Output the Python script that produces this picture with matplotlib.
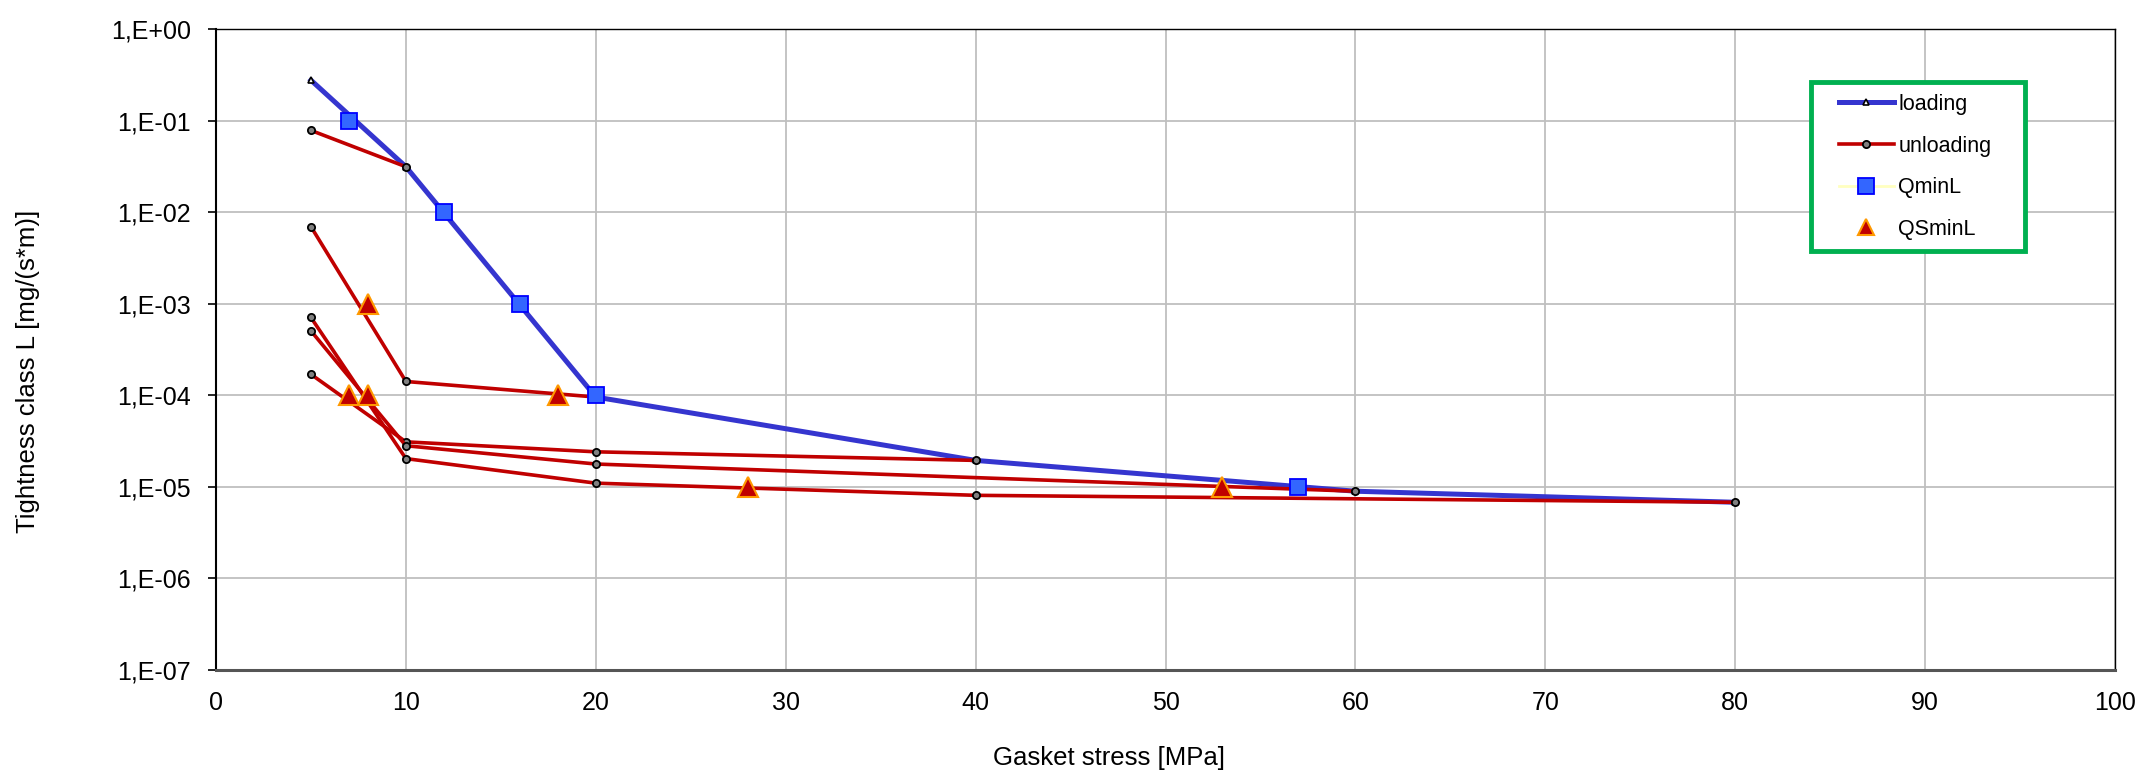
import matplotlib
matplotlib.use('Agg')
import matplotlib.pyplot as plt
from matplotlib.lines import Line2D
from matplotlib.patches import Rectangle

# ---- data ----
loading_x = [5, 10, 20, 40, 60, 80]
loading_y = [2.78e-1, 3.15e-2, 9.6e-5, 1.95e-5, 8.98e-6, 6.8e-6]

unload10_x = [10, 5]
unload10_y = [3.15e-2, 7.86e-2]
unload20_x = [20, 10, 5]
unload20_y = [9.6e-5, 1.42e-4, 6.98e-3]
unload40_x = [40, 20, 10, 5]
unload40_y = [1.95e-5, 2.42e-5, 3.11e-5, 1.7e-4]
unload60_x = [60, 20, 10, 5]
unload60_y = [8.98e-6, 1.78e-5, 2.82e-5, 5.07e-4]
unload80_x = [80, 40, 20, 10, 5]
unload80_y = [6.8e-6, 8.1e-6, 1.1e-5, 2.04e-5, 7.1e-4]

qminl_x = [7, 12, 16, 20, 57]
qminl_y = [1e-1, 1e-2, 1e-3, 1e-4, 1e-5]
qsminl_x = [7, 8, 8, 18, 28, 53]
qsminl_y = [1e-4, 1e-4, 1e-3, 1e-4, 1e-5, 1e-5]

x_ticks = [0, 10, 20, 30, 40, 50, 60, 70, 80, 90, 100]
y_ticks = [1e0, 1e-1, 1e-2, 1e-3, 1e-4, 1e-5, 1e-6, 1e-7]
y_tick_labels = ['1,E+00', '1,E-01', '1,E-02', '1,E-03', '1,E-04', '1,E-05', '1,E-06', '1,E-07']

series_names = ['loading', 'unloading', 'QminL', 'QSminL']

# ---- style ----
plt.rcParams['font.family'] = ['Liberation Sans', 'DejaVu Sans']
BLUE = '#3535CF'
RED = '#C00000'
FS_TICK = 18
FS_LABEL = 18.5
FS_LEG = 15.5

W, H = 2156, 778
fig = plt.figure(figsize=(W / 100, H / 100), dpi=100)
left, right, top, bottom = 216, 2115, 29.3, 670
ax = fig.add_axes([left / W, 1 - bottom / H, (right - left) / W, (bottom - top) / H])

ax.set_yscale('log')
ax.set_xlim(0, 100)
ax.set_ylim(1e-7, 1)

ax.grid(True, which='major', color='#BFBFBF', linewidth=1.3)
ax.set_axisbelow(True)
ax.minorticks_off()

# loading
ax.plot(loading_x, loading_y, color=BLUE, lw=3.6, marker='^', ms=5,
        mfc='white', mec='black', mew=1.2, zorder=3)

# unloading curves
unloads = [(unload10_x, unload10_y), (unload20_x, unload20_y), (unload40_x, unload40_y),
           (unload60_x, unload60_y), (unload80_x, unload80_y)]
for ux, uy in unloads:
    ax.plot(ux, uy, color=RED, lw=2.6, marker='o', ms=5.2,
            mfc='#808080', mec='black', mew=1.3, zorder=4)

# QminL squares
ax.plot(qminl_x, qminl_y, linestyle='none', marker='s', ms=11,
        mfc='#3366FF', mec='#0000FF', mew=1.3, zorder=5)
# QSminL triangles
ax.plot(qsminl_x, qsminl_y, linestyle='none', marker='^', ms=14,
        mfc=RED, mec='#FF9900', mew=1.5, zorder=6)

ax.set_xticks(x_ticks)
ax.set_xticklabels([str(v) for v in x_ticks], fontsize=FS_TICK)
ax.set_yticks(y_ticks)
ax.set_yticklabels(y_tick_labels, fontsize=FS_TICK)
ax.tick_params(axis='x', length=0, pad=15)
ax.tick_params(axis='y', direction='out', length=6, width=1.2, pad=12, color='black')

for s in ['top', 'right']:
    ax.spines[s].set_color('black')
    ax.spines[s].set_linewidth(1.0)
ax.spines['left'].set_color('black')
ax.spines['left'].set_linewidth(1.5)
ax.spines['bottom'].set_color('#555555')
ax.spines['bottom'].set_linewidth(2.2)

fig.text(1109 / W, 1 - 758 / H, 'Gasket stress [MPa]', fontsize=FS_LABEL, ha='center', va='center')
fig.text(28 / W, 1 - 371 / H, 'Tightness class L [mg/(s*m)]', fontsize=FS_LABEL,
         ha='center', va='center', rotation=90)

# legend
handles = [
    Line2D([], [], color=BLUE, lw=3.6, marker='^', ms=5, mfc='white', mec='black', mew=1.2),
    Line2D([], [], color=RED, lw=2.6, marker='o', ms=5.2, mfc='#808080', mec='black', mew=1.3),
    Line2D([], [], color='#FFFFC0', lw=2.0, marker='s', ms=11, mfc='#3366FF', mec='#0000FF', mew=1.3),
    Line2D([], [], linestyle='none', marker='^', ms=12, mfc=RED, mec='#FF9900', mew=1.5),
]
leg = fig.legend(handles, series_names, loc='upper left',
                 bbox_to_anchor=(1839 / W, 1 - 94 / H), bbox_transform=fig.transFigure,
                 frameon=False, fontsize=FS_LEG, handlelength=2.55, handletextpad=0.21,
                 labelspacing=0.96, borderpad=0, borderaxespad=0)
fig.add_artist(Rectangle((1811 / W, 1 - 251 / H), (2025 - 1811) / W, (251 - 82) / H,
                         transform=fig.transFigure, fill=True, facecolor='white',
                         edgecolor='#00B050', linewidth=3.5, zorder=0.5))
leg.set_zorder(10)

fig.savefig('out.png', dpi=100)
